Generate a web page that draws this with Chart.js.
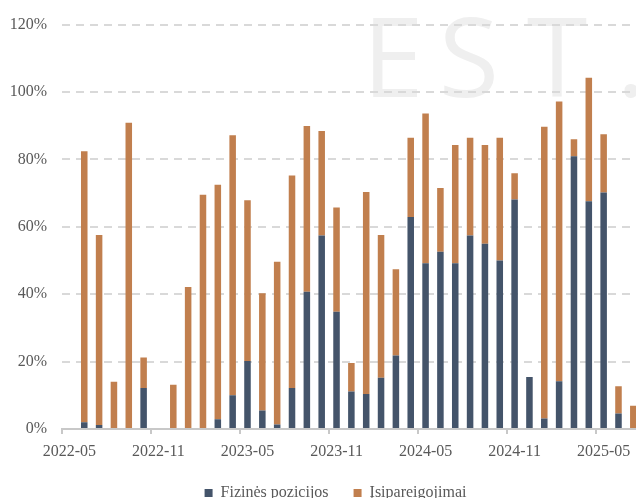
<!DOCTYPE html>
<html>
<head>
<meta charset="utf-8">
<script src="https://cdn.jsdelivr.net/npm/chart.js@4/dist/chart.umd.min.js"></script>
<style>
  html, body { margin: 0; padding: 0; overflow: hidden; background: #ffffff; }
  #wrap { position: relative; width: 671px; height: 498px; }
</style>
</head>
<body>
<div id="wrap"><canvas id="c"></canvas></div>
<script>
// Categories (monthly)
const months = [
  '2022-05','2022-06','2022-07','2022-08','2022-09','2022-10','2022-11','2022-12',
  '2023-01','2023-02','2023-03','2023-04','2023-05','2023-06','2023-07','2023-08',
  '2023-09','2023-10','2023-11','2023-12','2024-01','2024-02','2024-03','2024-04',
  '2024-05','2024-06','2024-07','2024-08','2024-09','2024-10','2024-11','2024-12',
  '2025-01','2025-02','2025-03','2025-04','2025-05','2025-06','2025-07','2025-08',
  '2025-09'
];

// Series: Fizinės pozicijos (bottom segment, %)
const fizinesPozicijos = [
  null, 2.0, 1.2, 0, 0, 12.2, null, 0,
  0, 0, 2.9, 10.0, 20.2, 5.5, 1.3, 12.2,
  40.7, 57.4, 34.8, 11.1, 10.4, 15.2, 21.8, 62.9,
  49.2, 52.6, 49.2, 57.4, 55.0, 50.0, 68.1, 15.4,
  3.1, 14.2, 80.9, 67.6, 70.2, 4.6, 0, null,
  null
];

// Series: Įsipareigojimai (top segment, %)
const isipareigojimai = [
  null, 80.4, 56.4, 14.0, 90.9, 9.0, null, 13.1,
  42.1, 69.5, 69.6, 77.2, 47.7, 34.8, 48.3, 63.0,
  49.2, 31.0, 30.9, 8.5, 59.9, 42.4, 25.6, 23.5,
  44.4, 18.9, 35.1, 29.0, 29.3, 36.4, 7.8, 0,
  86.6, 83.0, 5.1, 36.6, 17.3, 8.1, 6.9, null,
  null
];

const seriesNames = ['Fizinės pozicijos', 'Įsipareigojimai'];
const yTicks = [0, 20, 40, 60, 80, 100, 120];
const watermark = ['E', 'S', 'T', '.'];

const textColor = '#595959';
const serif = '"Liberation Serif", "DejaVu Serif", serif';

const watermarkPlugin = {
  id: 'watermark',
  beforeDraw(chart) {
    const ctx = chart.ctx;
    ctx.save();
    ctx.fillStyle = '#efefef';
    ctx.font = '110px "Open Sans", "Noto Sans", sans-serif';
    ctx.textAlign = 'center';
    ctx.textBaseline = 'alphabetic';
    const xs = [393, 469, 557, 631];
    watermark.forEach((ch, i) => ctx.fillText(ch, xs[i], 97));
    ctx.restore();
  }
};

new Chart(document.getElementById('c'), {
  type: 'bar',
  data: {
    labels: months,
    datasets: [
      {
        label: seriesNames[0],
        data: fizinesPozicijos,
        backgroundColor: '#44546A',
        borderWidth: 0,
        barPercentage: 0.44,
        categoryPercentage: 1.0
      },
      {
        label: seriesNames[1],
        data: isipareigojimai,
        backgroundColor: '#C17F4E',
        borderWidth: 0,
        barPercentage: 0.44,
        categoryPercentage: 1.0
      }
    ]
  },
  options: {
    responsive: true,
    maintainAspectRatio: false,
    animation: false,
    layout: { padding: { top: 17, left: 0, right: 0, bottom: -13 } },
    plugins: {
      tooltip: { enabled: false },
      title: { display: false },
      legend: {
        position: 'bottom',
        labels: {
          font: { family: serif, size: 16 },
          color: textColor,
          boxWidth: 8,
          boxHeight: 8,
          padding: 25
        }
      }
    },
    scales: {
      x: {
        stacked: true,
        offset: true,
        afterFit(scale) { scale.height = 31; },
        grid: {
          offset: true,
          drawOnChartArea: false,
          drawTicks: true,
          tickLength: 5,
          lineWidth: 2,
          color: (ctx) => (ctx.index % 6 === 0 ? '#c8c8c8' : 'rgba(0,0,0,0)'),
          tickColor: (ctx) => (ctx.index % 6 === 0 ? '#c8c8c8' : 'rgba(0,0,0,0)')
        },
        border: { display: true, color: '#c8c8c8', width: 2 },
        ticks: {
          autoSkip: false,
          maxRotation: 0,
          minRotation: 0,
          padding: 8,
          color: textColor,
          font: { family: serif, size: 16 },
          callback: (v, i) => (i % 6 === 0 ? months[i] : '')
        }
      },
      y: {
        stacked: true,
        min: yTicks[0],
        max: yTicks[yTicks.length - 1],
        afterFit(scale) { scale.width = 62; },
        afterBuildTicks(scale) { scale.ticks = yTicks.map(v => ({ value: v })); },
        grid: {
          drawTicks: false,
          lineWidth: 2,
          color: (ctx) => (ctx.tick && ctx.tick.value === 0 ? 'rgba(0,0,0,0)' : '#d9d9d9')
        },
        border: { display: false, dash: [8, 6] },
        ticks: {
          padding: 15,
          color: textColor,
          font: { family: serif, size: 16 },
          callback: (v) => v + '%'
        }
      }
    }
  },
  plugins: [watermarkPlugin]
});
</script>
</body>
</html>
